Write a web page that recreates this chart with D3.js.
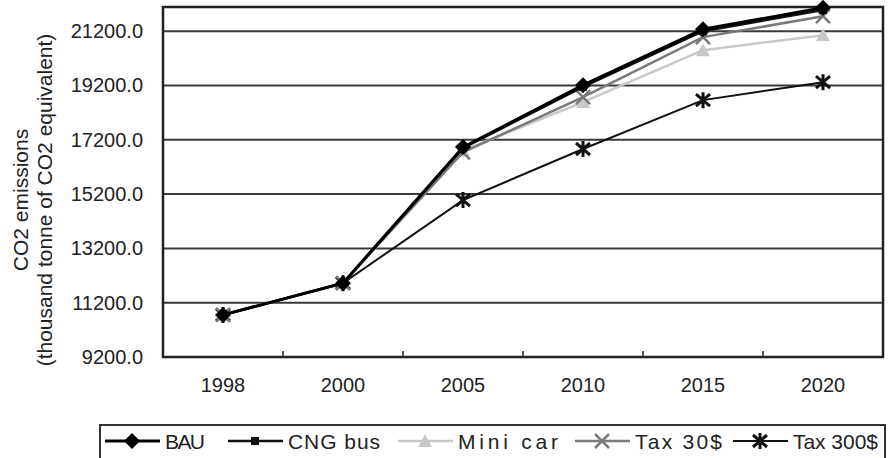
<!DOCTYPE html>
<html>
<head>
<meta charset="utf-8">
<script src="https://cdn.jsdelivr.net/npm/d3@7"></script>
<style>
  body { margin: 0; background: #fff; }
  text { font-family: "Liberation Sans", Arial, sans-serif; fill: #222; }
</style>
</head>
<body>
<svg id="chart" width="892" height="458"></svg>
<script>
const years = ['1998', '2000', '2005', '2010', '2015', '2020'];
const bau = [10750, 11920, 16930, 19210, 21270, 22060];
const cngBus = [10750, 11920, 16890, 19150, 21200, 21980];
const miniCar = [10750, 11920, 16800, 18590, 20500, 21050];
const tax30 = [10750, 11920, 16740, 18770, 20980, 21750];
const tax300 = [10750, 11920, 14980, 16860, 18660, 19320];
const yTicks = [9200, 11200, 13200, 15200, 17200, 19200, 21200];

const series = [
  {name: 'BAU', values: bau, color: '#000', width: 3, marker: 'diamond'},
  {name: 'CNG bus', values: cngBus, color: '#111', width: 2.5, marker: 'square'},
  {name: 'Mini car', values: miniCar, color: '#c8c8c8', width: 2.5, marker: 'triangle'},
  {name: 'Tax 30$', values: tax30, color: '#7a7a7a', width: 2.5, marker: 'cross'},
  {name: 'Tax 300$', values: tax300, color: '#111', width: 2, marker: 'star'}
];

const svg = d3.select('#chart');
const plotL = 163, plotR = 883, plotT = 7, plotB = 357;

const x = d3.scaleBand().domain(years).range([plotL, plotR]);
const y = d3.scaleLinear().domain([9200, 22090]).range([plotB, plotT]);

// horizontal gridlines
svg.append('g').selectAll('line')
  .data(yTicks.slice(1)).enter().append('line')
  .attr('x1', plotL).attr('x2', plotR)
  .attr('y1', d => y(d)).attr('y2', d => y(d))
  .attr('stroke', '#3a3a3a').attr('stroke-width', 2);

// plot frame
svg.append('rect')
  .attr('x', plotL).attr('y', plotT)
  .attr('width', plotR - plotL).attr('height', plotB - plotT)
  .attr('fill', 'none').attr('stroke', '#222').attr('stroke-width', 2.5);

// y labels
svg.append('g').selectAll('text')
  .data(yTicks).enter().append('text')
  .attr('x', 143).attr('y', d => y(d) + 7)
  .attr('text-anchor', 'end')
  .style('font-size', '20px')
  .text(d => d3.format('.1f')(d));

// x ticks (inside, at category boundaries) and labels
svg.append('g').selectAll('line')
  .data(years.slice(1)).enter().append('line')
  .attr('x1', d => x(d)).attr('x2', d => x(d))
  .attr('y1', plotB).attr('y2', plotB - 6)
  .attr('stroke', '#222').attr('stroke-width', 1.5);

svg.append('g').selectAll('text')
  .data(years).enter().append('text')
  .attr('x', d => x(d) + x.bandwidth() / 2).attr('y', 392)
  .attr('text-anchor', 'middle')
  .style('font-size', '20px')
  .text(d => d);

// axis title
const title = svg.append('text')
  .attr('transform', 'translate(0,200) rotate(-90)')
  .attr('text-anchor', 'middle')
  .style('font-size', '21px');
title.append('tspan').attr('x', 0).attr('y', 28).text('CO2 emissions');
title.append('tspan').attr('x', 0).attr('y', 52).text('(thousand tonne of CO2 equivalent)');

function drawMarker(g, type, color, cx, cy) {
  if (type === 'diamond') {
    g.append('path').attr('d', `M${cx},${cy - 8}L${cx + 8},${cy}L${cx},${cy + 8}L${cx - 8},${cy}Z`)
      .attr('fill', color);
  } else if (type === 'square') {
    g.append('rect').attr('x', cx - 4).attr('y', cy - 4).attr('width', 8).attr('height', 8)
      .attr('fill', color);
  } else if (type === 'triangle') {
    g.append('path').attr('d', `M${cx},${cy - 7}L${cx + 7},${cy + 6}L${cx - 7},${cy + 6}Z`)
      .attr('fill', color);
  } else if (type === 'cross') {
    g.append('path').attr('d', `M${cx - 7},${cy - 7}L${cx + 7},${cy + 7}M${cx - 7},${cy + 7}L${cx + 7},${cy - 7}`)
      .attr('stroke', color).attr('stroke-width', 2.5);
  } else if (type === 'star') {
    g.append('path').attr('d', `M${cx - 7},${cy - 6}L${cx + 7},${cy + 6}M${cx - 7},${cy + 6}L${cx + 7},${cy - 6}M${cx},${cy - 8}L${cx},${cy + 8}`)
      .attr('stroke', color).attr('stroke-width', 3);
  }
}

const line = d3.line()
  .x((d, i) => x(years[i]) + x.bandwidth() / 2)
  .y(d => y(d));

// draw back to front so BAU sits on top
const order = [4, 2, 3, 1, 0];
order.forEach(k => {
  const s = series[k];
  const g = svg.append('g');
  g.append('path').attr('d', line(s.values))
    .attr('fill', 'none').attr('stroke', s.color).attr('stroke-width', s.width);
  s.values.forEach((v, i) => drawMarker(g, s.marker, s.color, x(years[i]) + x.bandwidth() / 2, y(v)));
});

// legend
const legend = svg.append('g');
legend.append('rect')
  .attr('x', 100).attr('y', 425).attr('width', 785).attr('height', 40)
  .attr('fill', '#fff').attr('stroke', '#333').attr('stroke-width', 2);

const legendX = [105, 228, 398, 575, 733];
const legendW = [40, 92, 100, 87, 85];
series.forEach((s, i) => {
  const lx = legendX[i], ly = 441;
  legend.append('line').attr('x1', lx).attr('x2', lx + 55)
    .attr('y1', ly).attr('y2', ly)
    .attr('stroke', s.color).attr('stroke-width', s.width);
  drawMarker(legend, s.marker, s.color, lx + 27, ly);
  legend.append('text')
    .attr('x', lx + 60).attr('y', ly + 8)
    .attr('textLength', legendW[i])
    .attr('lengthAdjust', 'spacing')
    .style('font-size', '21px')
    .text(s.name);
});
</script>
</body>
</html>
